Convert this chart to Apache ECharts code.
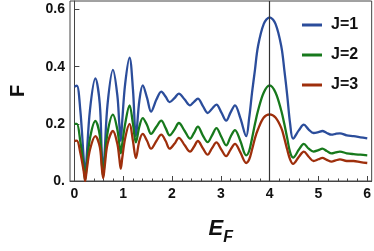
<!DOCTYPE html>
<html>
<head>
<meta charset="utf-8">
<script src="https://cdn.jsdelivr.net/npm/echarts@6/dist/echarts.min.js"></script>
<style>
  html, body { margin: 0; padding: 0; background: #fff; }
  #chart { width: 374px; height: 251px; }
</style>
</head>
<body>
<div id="chart"></div>
<script>
// energy grid (E_F) shared by the three curves
const xs = [
  0, 0.05, 0.12, 0.19, 0.22, 0.25, 0.32, 0.43, 0.52, 0.56,
  0.59, 0.62, 0.68, 0.79, 0.88, 0.92, 0.95, 0.98, 1.04, 1.13,
  1.20, 1.26, 1.33, 1.40, 1.49, 1.57, 1.68, 1.78, 1.87, 1.95,
  2.05, 2.14, 2.26, 2.37, 2.45, 2.53, 2.63, 2.73, 2.82, 2.91,
  3.01, 3.11, 3.20, 3.29, 3.40, 3.52, 3.58, 3.64, 3.70, 3.76,
  3.88, 4.00, 4.12, 4.24, 4.30, 4.36, 4.42, 4.48, 4.60, 4.70,
  4.80, 4.90, 5.00, 5.08, 5.17, 5.27, 5.35, 5.44, 5.58, 5.72,
  5.86, 6.00
]
const j1 = [
  0.330, 0.334, 0.25, 0.08, 0.01, 0.08, 0.25, 0.359, 0.27, 0.10,
  0.02, 0.10, 0.27, 0.389, 0.30, 0.20, 0.14, 0.21, 0.34, 0.432,
  0.32, 0.157, 0.28, 0.335, 0.29, 0.243, 0.285, 0.313, 0.295, 0.276,
  0.29, 0.306, 0.285, 0.265, 0.277, 0.288, 0.263, 0.238, 0.253, 0.267,
  0.24, 0.211, 0.24, 0.265, 0.22, 0.157, 0.22, 0.31, 0.39, 0.47,
  0.55, 0.573, 0.55, 0.47, 0.39, 0.30, 0.20, 0.148, 0.178, 0.197,
  0.18, 0.168, 0.171, 0.175, 0.168, 0.162, 0.165, 0.167, 0.160, 0.157,
  0.153, 0.149
]
const j2 = [
  0.200, 0.200, 0.14, 0.05, 0.005, 0.05, 0.15, 0.21, 0.16, 0.07,
  0.015, 0.07, 0.17, 0.232, 0.18, 0.13, 0.097, 0.13, 0.20, 0.265,
  0.20, 0.135, 0.19, 0.22, 0.195, 0.165, 0.19, 0.211, 0.185, 0.16,
  0.18, 0.203, 0.175, 0.148, 0.168, 0.19, 0.16, 0.136, 0.16, 0.185,
  0.155, 0.125, 0.155, 0.178, 0.14, 0.09, 0.105, 0.15, 0.20, 0.245,
  0.31, 0.335, 0.31, 0.245, 0.20, 0.15, 0.10, 0.082, 0.11, 0.13,
  0.113, 0.103, 0.108, 0.113, 0.105, 0.097, 0.10, 0.103, 0.097, 0.094,
  0.092, 0.090
]
const j3 = [
  0.140, 0.141, 0.10, 0.035, 0.0, 0.035, 0.11, 0.157, 0.12, 0.05,
  0.01, 0.05, 0.13, 0.175, 0.13, 0.08, 0.043, 0.08, 0.15, 0.20,
  0.14, 0.08, 0.14, 0.165, 0.14, 0.113, 0.14, 0.162, 0.14, 0.113,
  0.13, 0.151, 0.125, 0.103, 0.12, 0.14, 0.115, 0.092, 0.115, 0.135,
  0.11, 0.087, 0.11, 0.13, 0.10, 0.063, 0.075, 0.11, 0.15, 0.18,
  0.222, 0.233, 0.222, 0.185, 0.15, 0.11, 0.075, 0.06, 0.085, 0.103,
  0.085, 0.07, 0.076, 0.081, 0.074, 0.068, 0.072, 0.076, 0.070, 0.070,
  0.066, 0.063
]
const seriesNames = ['J=1', 'J=2', 'J=3']
const xTicks = [0, 1, 2, 3, 4, 5, 6]
const markX = 4

const colors = ['#2b4d9b', '#17791c', '#9e2f0c']
const font = '"Liberation Sans", Arial, sans-serif'

const minorTicks = []
for (let i = 0; i <= 30; i++) minorTicks.push(i / 5)

const chart = echarts.init(document.getElementById('chart'))

const series = [j1, j2, j3].map((ys, idx) => ({
  name: seriesNames[idx],
  type: 'line',
  xAxisIndex: 0,
  data: xs.map((x, i) => [x, ys[i]]),
  smooth: 0.35,
  symbol: 'none',
  lineStyle: { width: 2.3, color: colors[idx] },
  itemStyle: { color: colors[idx] }
}))

series[2].markLine = {
  silent: true,
  symbol: ['none', 'none'],
  label: { show: false },
  lineStyle: { color: '#333', width: 1.2, type: 'solid' },
  data: [{ xAxis: markX }]
}

chart.setOption({
  animation: false,
  grid: {
    left: 59, right: 2, top: 1, bottom: 56,
    show: true, borderColor: '#444', borderWidth: 1
  },
  legend: {
    data: seriesNames,
    orient: 'vertical',
    left: 297,
    top: 12,
    icon: 'rect',
    itemWidth: 20,
    itemHeight: 3,
    itemGap: 14,
    textStyle: {
      fontFamily: font, fontWeight: 'bold', fontSize: 16,
      lineHeight: 16, color: '#111', padding: [0, 0, 0, 4]
    }
  },
  xAxis: [
    {
      type: 'value',
      min: -0.09,
      max: 6.09,
      position: 'bottom',
      name: '{e|E}{s|F}',
      nameLocation: 'middle',
      nameGap: 37,
      nameTextStyle: {
        rich: {
          e: { fontFamily: font, fontWeight: 'bold', fontStyle: 'italic', fontSize: 22, color: '#111', verticalAlign: 'bottom' },
          s: { fontFamily: font, fontWeight: 'bold', fontStyle: 'italic', fontSize: 16, color: '#111', verticalAlign: 'bottom', padding: [0, 0, -6, 0] }
        }
      },
      axisLine: { show: true, onZero: false, lineStyle: { color: '#444', width: 1 } },
      axisTick: { show: true, inside: true, length: 5, customValues: xTicks, lineStyle: { color: '#444' } },
      axisLabel: { customValues: xTicks, fontFamily: font, fontWeight: 'bold', fontSize: 14, color: '#111', margin: 6 },
      splitLine: { show: false }
    },
    {
      type: 'value',
      min: -0.09,
      max: 6.09,
      position: 'bottom',
      axisLine: { show: false },
      axisTick: { show: true, inside: true, length: 2.5, customValues: minorTicks, lineStyle: { color: '#444' } },
      axisLabel: { show: false },
      splitLine: { show: false }
    }
  ],
  yAxis: {
    type: 'value',
    min: 0,
    max: 0.63,
    interval: 0.2,
    name: 'F',
    nameLocation: 'middle',
    nameGap: 42,
    nameRotate: 90,
    nameTextStyle: { fontFamily: font, fontWeight: 'bold', fontSize: 20, color: '#111' },
    axisLine: { show: true, lineStyle: { color: '#444', width: 1 } },
    axisTick: { show: true, inside: true, length: 5, lineStyle: { color: '#444' } },
    axisLabel: {
      fontFamily: font, fontWeight: 'bold', fontSize: 14, color: '#111', margin: 5,
      formatter: v => (v === 0 ? '0.' : v.toFixed(1))
    },
    splitLine: { show: false }
  },
  series: series
})
</script>
</body>
</html>
